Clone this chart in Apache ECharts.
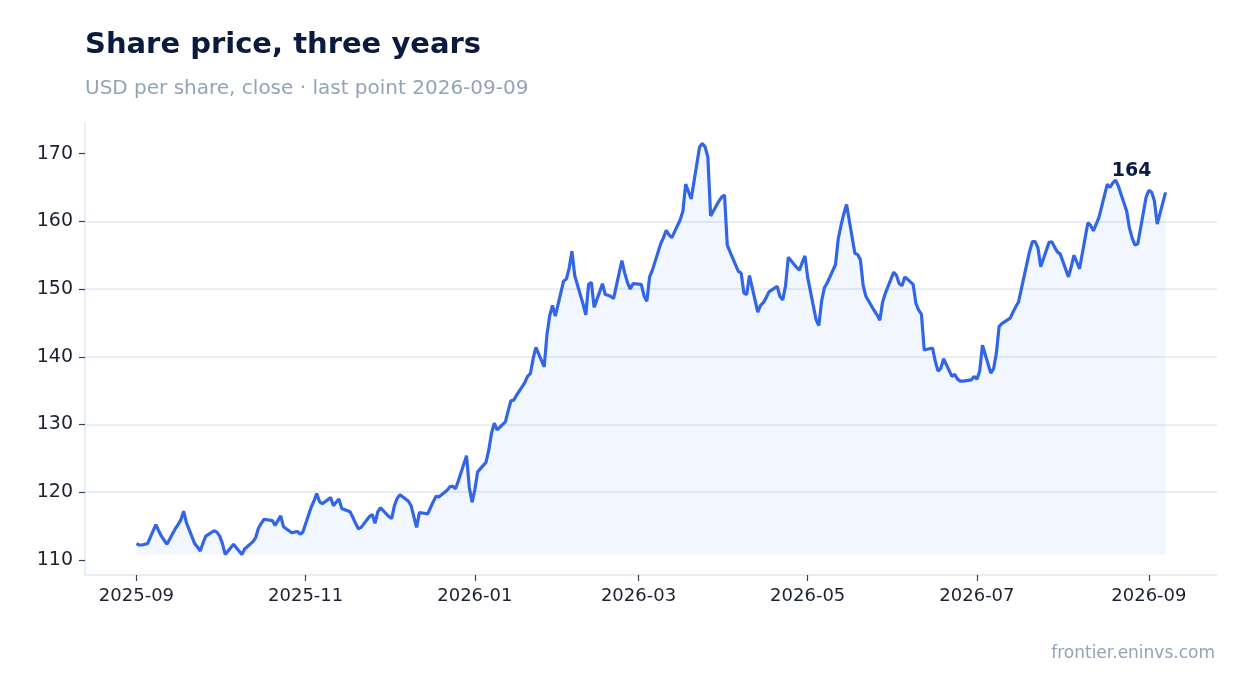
<!DOCTYPE html>
<html>
<head>
<meta charset="utf-8">
<title>Share price, three years</title>
<script src="https://cdn.jsdelivr.net/npm/echarts@6/dist/echarts.min.js"></script>
<style>
  html, body { margin: 0; padding: 0; background: #fff; }
  #main { width: 1247px; height: 693px; }
</style>
</head>
<body>
<div id="main"></div>
<script type="text/javascript">
// first and last trading day shown
var firstDay = '2025-09-01';
var lastDay = '2026-09-07';

// close price, USD, one value per trading day (Mon-Fri)
var prices = [
  112.4, 112.2, 112.2, 112.3, 112.4,
  115.2, 114.3, 113.5, 112.9, 112.3,
  114.6, 115.2, 115.9, 117.2, 115.5,
  112.4, 111.9, 111.3, 112.5, 113.5,
  114.3, 114.1, 113.5, 112.4, 110.8,
  112.3, 111.8, 111.3, 110.8, 111.6,
  112.7, 113.3, 114.7, 115.4, 116.0,
  115.8, 115.1, 115.8, 116.5, 114.9,
  114.0, 114.1, 114.2, 113.8, 114.1,
  117.8, 118.7, 119.8, 118.6, 118.3,
  119.2, 118.0, 118.5, 119.0, 117.6,
  117.1, 116.3, 115.4, 114.6, 114.8,
  116.4, 116.7, 115.4, 117.1, 117.7,
  116.4, 116.1, 118.0, 119.1, 119.6,
  118.7, 118.0, 116.4, 114.8, 117.0,
  116.8, 117.7, 118.6, 119.4, 119.3,
  120.3, 120.8, 120.9, 120.5, 121.6,
  125.4, 120.7, 118.5, 120.4, 123.0,
  124.4, 126.2, 128.7, 130.2, 129.2,
  130.4, 132.0, 133.5, 133.6, 134.3,
  136.2, 137.1, 137.5, 139.7, 141.4,
  138.5, 143.3, 146.1, 147.6, 146.0,
  151.2, 151.5, 153.1, 155.6, 152.0,
  147.8, 146.2, 150.7, 151.0, 147.3,
  150.8, 149.2, 149.1, 148.9, 148.6,
  154.2, 152.4, 151.0, 150.0, 150.8,
  150.7, 149.0, 148.2, 151.8, 152.8,
  156.7, 157.6, 158.7, 158.0, 157.6,
  160.2, 161.5, 165.5, 164.4, 163.3,
  171.0, 171.5, 171.0, 169.5, 160.8,
  163.0, 163.6, 163.9, 156.5, 155.5,
  152.6, 152.4, 149.4, 149.2, 152.0,
  146.6, 147.6, 148.0, 148.7, 149.6,
  150.4, 148.9, 148.4, 150.5, 154.7,
  153.2, 152.8, 153.9, 154.9, 151.7,
  145.5, 144.6, 148.2, 150.2, 150.9,
  153.6, 157.4, 159.4, 161.1, 162.5,
  155.3, 155.1, 154.3, 150.5, 148.9,
  146.8, 146.2, 145.4, 148.1, 149.4,
  152.5, 152.0, 150.8, 150.5, 151.8,
  150.7, 147.9, 146.9, 146.3, 141.0,
  141.3, 139.3, 137.9, 138.3, 139.7,
  137.1, 137.4, 136.7, 136.4, 136.4,
  136.6, 137.1, 136.7, 137.9, 141.7,
  137.6, 138.2, 140.5, 144.5, 144.9,
  145.7, 146.6, 147.4, 148.1, 150.0,
  155.6, 157.0, 157.0, 156.1, 153.3,
  156.9, 157.0, 156.2, 155.5, 155.2,
  151.8, 153.3, 155.0, 154.0, 153.0,
  159.8, 159.4, 158.6, 159.6, 160.6,
  165.5, 165.0, 165.7, 166.1, 165.2,
  161.5, 159.0, 157.5, 156.5, 156.7,
  163.6, 164.6, 164.3, 163.0, 159.6,
  164.3
];

// y axis tick labels
var yTicks = [110, 120, 130, 140, 150, 160, 170];

// trading days between firstDay and lastDay
var dates = [];
var d = new Date(firstDay + 'T12:00:00Z');
var end = new Date(lastDay + 'T12:00:00Z');
while (d <= end) {
    var wd = d.getUTCDay();
    if (wd !== 0 && wd !== 6) dates.push(d.toISOString().slice(0, 10));
    d.setUTCDate(d.getUTCDate() + 1);
}

var seriesData = [];
for (var i = 0; i < prices.length; i++) {
    seriesData.push([dates[i], prices[i]]);
}

var pMin = Math.min.apply(null, prices);
var pMax = Math.max.apply(null, prices);
var pPad = (pMax - pMin) * 0.05;
var lastPrice = prices[prices.length - 1];

var navy = '#0b1a3f';
var grey = '#94a3b8';
var gridGrey = '#e2e8f0';
var blue = '#3266e6';
var ink = '#1c2230';

var myChart = echarts.init(document.getElementById('main'));

var option = {
    animation: false,
    backgroundColor: '#fff',
    textStyle: { fontFamily: 'DejaVu Sans' },
    title: [{
        text: 'Share price, three years',
        subtext: 'USD per share, close · last point 2026-09-09',
        left: 80,
        top: 26,
        itemGap: 19,
        textStyle: { fontSize: 29, fontWeight: 'bold', color: navy, fontFamily: 'DejaVu Sans' },
        subtextStyle: { fontSize: 20, color: grey, fontFamily: 'DejaVu Sans' }
    }, {
        text: 'frontier.eninvs.com',
        right: 27,
        top: 640,
        textStyle: { fontSize: 17, fontWeight: 'normal', color: grey, fontFamily: 'DejaVu Sans' }
    }],
    grid: { left: 85, right: 30, top: 123, bottom: 118 },
    xAxis: {
        type: 'time',
        min: function (v) { return v.min - (v.max - v.min) * 0.05; },
        max: function (v) { return v.max + (v.max - v.min) * 0.05; },
        axisLine: { show: true, lineStyle: { color: gridGrey, width: 1.5 } },
        axisTick: { show: true, length: 6, lineStyle: { color: '#334155', width: 1.2 } },
        axisLabel: { formatter: '{yyyy}-{MM}', fontSize: 18, color: ink, margin: 12 },
        splitLine: { show: false }
    },
    yAxis: {
        type: 'value',
        min: pMin - pPad,
        max: pMax + pPad,
        axisLine: { show: true, lineStyle: { color: gridGrey, width: 1.5 } },
        axisTick: { show: true, length: 6, customValues: yTicks, lineStyle: { color: '#334155', width: 1.2 } },
        axisLabel: { customValues: yTicks, fontSize: 19, color: ink, margin: 12 },
        splitLine: { show: true, showMinLine: false, showMaxLine: false, lineStyle: { color: gridGrey, width: 1.5 } }
    },
    series: [{
        type: 'line',
        data: seriesData,
        showSymbol: false,
        silent: true,
        lineStyle: { color: blue, width: 3.2 },
        itemStyle: { color: blue },
        areaStyle: { color: 'rgba(37, 99, 235, 0.085)', origin: pMin },
        markPoint: {
            symbol: 'circle',
            symbolSize: 1,
            itemStyle: { color: 'rgba(0,0,0,0)' },
            label: {
                show: true,
                position: 'top',
                offset: [-34, -6],
                formatter: '{c}',
                fontSize: 19,
                fontWeight: 'bold',
                color: navy
            },
            data: [{ coord: [dates[dates.length - 1], lastPrice], value: Math.round(lastPrice) }]
        }
    }]
};

myChart.setOption(option);
</script>
</body>
</html>
